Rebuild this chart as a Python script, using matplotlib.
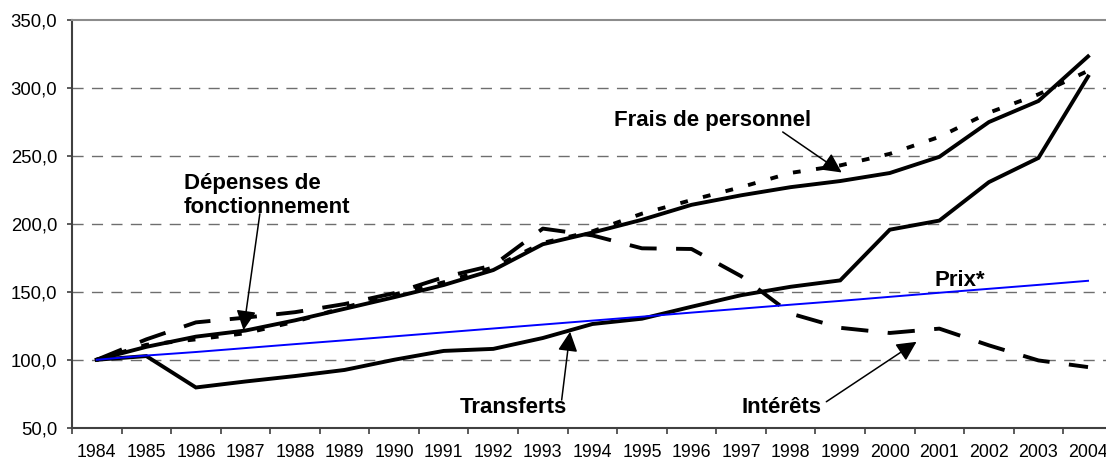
import numpy as np
import matplotlib.pyplot as plt

# --- Data (index 1984 = 100) ---
years = [str(y) for y in range(1984, 2005)]
depenses = [100, 109.5, 117, 121.5, 129, 137.5, 146, 155, 166, 185, 193.6,
            203, 214, 221, 227, 231.5, 237.4, 249.3, 274.9, 290.4, 323.2]
frais = [100, 111, 115, 119.5, 128, 138.5, 148, 157, 168, 186, 194.5,
         207.5, 217.5, 227, 237.5, 243, 251.5, 264, 281.8, 295.3, 312.6]
transferts = [100, 102.7, 79.6, 84, 88, 92.5, 100, 106.5, 108, 116, 126.3,
              130.2, 139, 147.5, 153.7, 158.4, 195.7, 202.4, 230.7, 248.5, 308.4]
interets = [100, 115, 127.5, 131, 135, 141, 149, 160.7, 169.5, 196.5, 191.5,
            182, 181.5, 161.5, 134, 123.5, 119.7, 122.9, 110.6, 99.5, 94.6]
prix = [100, 103.1, 105.7, 108.6, 111.5, 114.3, 117.2, 120.1, 123.0, 125.9, 128.8,
        131.7, 134.7, 137.6, 140.5, 143.3, 146.3, 149.3, 152.2, 155.1, 158.1]
yticks = [50, 100, 150, 200, 250, 300, 350]

plt.rcParams['font.family'] = ['Liberation Sans', 'DejaVu Sans']

fig = plt.figure(figsize=(11.06, 4.61), dpi=100)
# plot area runs a bit past the right edge of the image, like the original
ax = fig.add_axes([72 / 1106, 33.3 / 461, 1040.8 / 1106, 407.7 / 461])

x = np.arange(len(years))
lw = 2.8
ax.plot(x, depenses, color='black', lw=lw, solid_joinstyle='miter')
ax.plot(x, transferts, color='black', lw=lw, solid_joinstyle='miter')
ax.plot(x, frais, color='black', lw=lw, linestyle=(0, (2, 4)), dash_capstyle='butt')
ax.plot(x, interets, color='black', lw=lw, linestyle=(0, (7, 5)), dash_capstyle='butt')
ax.plot(x, prix, color='#0000ff', lw=1.4)

# --- Axes styling ---
ax.set_xlim(-0.5, len(years) - 0.5)
ax.set_ylim(50, 350)
ax.set_yticks(yticks)
ax.set_yticklabels([f'{v:.1f}'.replace('.', ',') for v in yticks], fontsize=13.3)
ax.set_xticks(x)
ax.set_xticklabels(years, fontsize=12.8)
ax.set_xticks(np.arange(-0.5, len(years), 1), minor=True)
ax.tick_params(axis='x', which='major', length=0, pad=12)
ax.tick_params(axis='x', which='minor', length=4, width=1.2, color='#404040')
ax.tick_params(axis='y', length=3.6, width=1.2, color='#404040', pad=7)

for yv in yticks[1:-1]:
    ax.axhline(yv, color='#6e6e6e', lw=1, linestyle=(0, (8, 6)), zorder=0)

ax.spines['left'].set_color('#404040')
ax.spines['bottom'].set_color('#404040')
ax.spines['left'].set_linewidth(1.5)
ax.spines['bottom'].set_linewidth(1.5)
ax.spines['top'].set_color('#8c8c8c')
ax.spines['top'].set_linewidth(1.5)
ax.spines['right'].set_visible(False)

# --- Labels with arrows ---
tfont = dict(fontsize=16, fontweight='bold', color='black')
arrow = dict(arrowstyle='-|>', mutation_scale=30, lw=1.1, color='black',
             shrinkA=0, shrinkB=0)

ax.text(1.76, 221, 'Dépenses de\nfonctionnement', ha='left', va='center',
        linespacing=1.2, **tfont)
ax.annotate('', xy=(2.96, 121.8), xytext=(3.29, 207.4), arrowprops=arrow)

ax.text(12.42, 276.2, 'Frais de personnel', ha='center', va='center', **tfont)
ax.annotate('', xy=(15.03, 237.8), xytext=(13.84, 267.6), arrowprops=arrow)

ax.text(8.41, 64.7, 'Transferts', ha='center', va='center', **tfont)
ax.annotate('', xy=(9.55, 120.6), xytext=(9.38, 70.4), arrowprops=arrow)

ax.text(13.82, 64.7, 'Intérêts', ha='center', va='center', **tfont)
ax.annotate('', xy=(16.54, 113.2), xytext=(14.72, 69.1), arrowprops=arrow)

ax.text(17.41, 158.6, 'Prix*', ha='center', va='center', **tfont)

fig.savefig('out.png', dpi=100)
